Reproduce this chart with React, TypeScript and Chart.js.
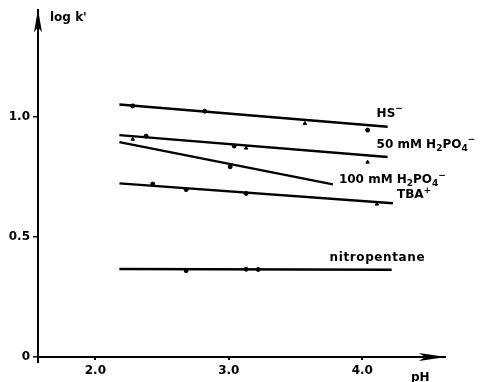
import React, { useEffect, useRef } from "react";
import { Chart, registerables } from "chart.js";

Chart.register(...registerables);

// ---- data (pH, log k') ----
const X_TICKS = [2, 3, 4];
const X_TICK_LABELS = ["2.0", "3.0", "4.0"];
const Y_TICKS = [0, 0.5, 1.0];
const Y_TICK_LABELS = ["0", "0.5", "1.0"];

const HS_FIT_PH = [2.18, 4.19];
const HS_FIT_LOGK = [1.053, 0.96];
const HS_PH = [2.28, 2.82, 3.57, 4.04];
const HS_LOGK = [1.047, 1.025, 0.974, 0.946];

const P50_FIT_PH = [2.18, 4.19];
const P50_FIT_LOGK = [0.925, 0.834];
const P50_PH = [2.28, 2.38, 3.04, 3.13, 4.04];
const P50_LOGK = [0.908, 0.921, 0.88, 0.871, 0.8125];

const P100_FIT_PH = [2.18, 3.78];
const P100_FIT_LOGK = [0.896, 0.72];
const P100_PH = [3.01];
const P100_LOGK = [0.793];

const TBA_FIT_PH = [2.18, 4.23];
const TBA_FIT_LOGK = [0.724, 0.641];
const TBA_PH = [2.43, 2.68, 3.13, 4.11];
const TBA_LOGK = [0.721, 0.698, 0.682, 0.6375];

const NITRO_FIT_PH = [2.18, 4.22];
const NITRO_FIT_LOGK = [0.367, 0.364];
const NITRO_PH = [2.68, 3.13, 3.22];
const NITRO_LOGK = [0.36, 0.366, 0.365];

const FONT = "'DejaVu Sans', sans-serif";

type Seg = { t: string; sub?: boolean; sup?: boolean };

const LABELS: { segs: Seg[]; ph: number[]; lk: number[]; dx: number; dy: number; sp: number }[] = [
  { segs: [{ t: "HS" }, { t: "\u2212", sup: true }], ph: HS_FIT_PH, lk: HS_FIT_LOGK, dx: -11, dy: -13, sp: 0 },
  {
    segs: [{ t: "50 mM H" }, { t: "2", sub: true }, { t: "PO" }, { t: "4", sub: true }, { t: "\u2212", sup: true }],
    ph: P50_FIT_PH, lk: P50_FIT_LOGK, dx: -11, dy: -12, sp: 0,
  },
  {
    segs: [{ t: "100 mM H" }, { t: "2", sub: true }, { t: "PO" }, { t: "4", sub: true }, { t: "\u2212", sup: true }],
    ph: P100_FIT_PH, lk: P100_FIT_LOGK, dx: 6, dy: -4, sp: 0,
  },
  { segs: [{ t: "TBA" }, { t: "+", sup: true }], ph: TBA_FIT_PH, lk: TBA_FIT_LOGK, dx: 4, dy: -8, sp: 0 },
  { segs: [{ t: "nitropentane" }], ph: NITRO_FIT_PH, lk: NITRO_FIT_LOGK, dx: -62, dy: -12, sp: 0.6 },
];

const zip = (xs: number[], ys: number[]) => xs.map((x, i) => ({ x, y: ys[i] }));

function drawRich(ctx: CanvasRenderingContext2D, x: number, y: number, segs: Seg[], size: number, sp = 0) {
  let cx = x;
  ctx.textBaseline = "middle";
  ctx.textAlign = "left";
  (ctx as any).letterSpacing = `${sp}px`;
  for (const s of segs) {
    const small = s.sub || s.sup;
    ctx.font = `bold ${small ? Math.round(size * 0.72) : size}px ${FONT}`;
    const dy = s.sub ? size * 0.3 : s.sup ? -size * 0.42 : 0;
    ctx.fillText(s.t, cx, y + dy);
    cx += ctx.measureText(s.t).width;
  }
  (ctx as any).letterSpacing = "0px";
}

const overlay = {
  id: "overlay",
  afterDraw(chart: any) {
    const ctx = chart.ctx as CanvasRenderingContext2D;
    const { left, right, top, bottom } = chart.chartArea;
    const xs = chart.scales.x;
    const ys = chart.scales.y;
    ctx.save();
    ctx.fillStyle = "#000";
    ctx.strokeStyle = "#000";
    ctx.lineWidth = 2;
    ctx.beginPath();
    ctx.moveTo(left, bottom);
    ctx.lineTo(left, bottom + 6);
    ctx.stroke();
    ctx.beginPath();
    ctx.moveTo(right + 1, bottom);
    ctx.lineTo(right - 26, bottom - 4);
    ctx.lineTo(right - 20, bottom);
    ctx.lineTo(right - 26, bottom + 4);
    ctx.closePath();
    ctx.fill();
    ctx.beginPath();
    ctx.moveTo(left, top - 1);
    ctx.lineTo(left - 4, top + 22);
    ctx.lineTo(left, top + 17);
    ctx.lineTo(left + 4, top + 22);
    ctx.closePath();
    ctx.fill();
    drawRich(ctx, left + 12, top + 8, [{ t: "log k'" }], 12);
    drawRich(ctx, right - 34, bottom + 21, [{ t: "pH" }], 12);
    for (const l of LABELS) {
      const n = l.ph.length - 1;
      const px = xs.getPixelForValue(l.ph[n]);
      const py = ys.getPixelForValue(l.lk[n]);
      drawRich(ctx, px + l.dx, py + l.dy, l.segs, 12, l.sp);
    }
    ctx.restore();
  },
};

export default function App() {
  const ref = useRef<HTMLCanvasElement>(null);
  useEffect(() => {
    if (!ref.current) return;
    const fit = (ph: number[], lk: number[]) => ({
      type: "line" as const,
      data: zip(ph, lk),
      borderColor: "#000",
      borderWidth: 2.4,
      pointRadius: 0,
      showLine: true,
      fill: false,
    });
    const pts = (ph: number[], lk: number[], styles: string[]) => ({
      type: "scatter" as const,
      data: zip(ph, lk),
      backgroundColor: "#000",
      borderColor: "#000",
      pointStyle: styles,
      pointRadius: 2,
      borderWidth: 1,
    });
    const chart = new Chart(ref.current, {
      type: "scatter",
      data: {
        datasets: [
          fit(HS_FIT_PH, HS_FIT_LOGK),
          pts(HS_PH, HS_LOGK, ["circle", "circle", "triangle", "circle"]),
          fit(P50_FIT_PH, P50_FIT_LOGK),
          pts(P50_PH, P50_LOGK, ["triangle", "circle", "circle", "triangle", "triangle"]),
          fit(P100_FIT_PH, P100_FIT_LOGK),
          pts(P100_PH, P100_LOGK, ["circle"]),
          fit(TBA_FIT_PH, TBA_FIT_LOGK),
          pts(TBA_PH, TBA_LOGK, ["circle", "circle", "circle", "triangle"]),
          fit(NITRO_FIT_PH, NITRO_FIT_LOGK),
          pts(NITRO_PH, NITRO_LOGK, ["circle", "circle", "circle"]),
        ] as any,
      },
      options: {
        responsive: false,
        animation: false,
        layout: { padding: { top: 10, right: 41, left: 0, bottom: 0 } },
        plugins: { legend: { display: false }, tooltip: { enabled: false } },
        scales: {
          x: {
            type: "linear",
            min: 1.57,
            max: 4.62,
            afterFit: (s: any) => { s.height = 25; },
            afterBuildTicks: (s: any) => { s.ticks = X_TICKS.map((v) => ({ value: v })); },
            ticks: {
              color: "#000",
              font: { family: FONT, size: 12, weight: "bold" },
              padding: 4,
              maxRotation: 0,
              callback: (v: any) => X_TICK_LABELS[X_TICKS.indexOf(Number(v))] ?? "",
            },
            grid: { drawOnChartArea: false, drawTicks: true, tickLength: 3, color: "#000", lineWidth: 2 },
            border: { display: true, color: "#000", width: 2 },
          },
          y: {
            type: "linear",
            min: 0,
            max: 1.446,
            afterFit: (s: any) => { s.width = 38; },
            afterBuildTicks: (s: any) => { s.ticks = Y_TICKS.map((v) => ({ value: v })); },
            ticks: {
              color: "#000",
              font: { family: FONT, size: 12, weight: "bold" },
              padding: 3,
              callback: (v: any) => Y_TICK_LABELS[Y_TICKS.indexOf(Number(v))] ?? "",
            },
            grid: { drawOnChartArea: false, drawTicks: true, tickLength: 5, color: "#000", lineWidth: 1.5 },
            border: { display: true, color: "#000", width: 2 },
          },
        },
      },
      plugins: [overlay],
    });
    return () => chart.destroy();
  }, []);
  return (
    <div style={{ position: "absolute", left: 0, top: 0, width: 486, height: 382, background: "#fff" }}>
      <canvas ref={ref} width={486} height={382} style={{ width: 486, height: 382, display: "block" }} />
    </div>
  );
}
